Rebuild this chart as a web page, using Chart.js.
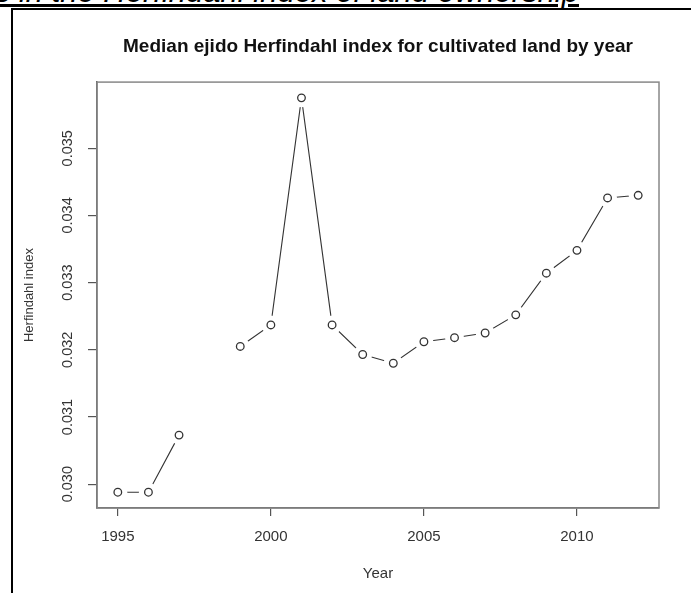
<!DOCTYPE html>
<html>
<head>
<meta charset="utf-8">
<script src="https://cdn.jsdelivr.net/npm/chart.js@4.4.1/dist/chart.umd.min.js"></script>
<style>
  html, body { margin: 0; padding: 0; background: #fff; }
  #wrap { position: relative; width: 691px; height: 593px; overflow: hidden; }
  #caption {
    position: absolute; right: 112px; top: -24px; white-space: nowrap;
    font: italic 31px "Liberation Sans", Arial, sans-serif; line-height: 31px;
    text-decoration: underline; color: #000;
  }
  #frame {
    position: absolute; left: 11px; top: 8px; width: 700px; height: 600px;
    border-left: 2px solid #000; border-top: 2px solid #000;
  }
  canvas { position: absolute; left: 0; top: 0; }
</style>
</head>
<body>
<div id="wrap">
  <div id="caption">Changes in the Herfindahl index of land ownership</div>
  <div id="frame"></div>
  <canvas id="herfChart" width="691" height="593"></canvas>
</div>
<script>
// datos
const years = [1995, 1996, 1997, 1998, 1999, 2000, 2001, 2002, 2003, 2004, 2005, 2006, 2007, 2008, 2009, 2010, 2011, 2012];
const herfindahl = [0.02988, 0.02988, 0.03073, null, 0.03205, 0.03237, 0.03575, 0.03237, 0.03193, 0.03180,
                    0.03212, 0.03218, 0.03225, 0.03252, 0.03314, 0.03348, 0.03426, 0.03430];
const xTicks = [1995, 2000, 2005, 2010];
const yTicks = [0.030, 0.031, 0.032, 0.033, 0.034, 0.035];
const yTickLabels = ['0.030', '0.031', '0.032', '0.033', '0.034', '0.035'];

const points = years.map((y, i) => ({ x: y, y: herfindahl[i] }));

// rango estilo R (4% extra a cada lado)
const vals = herfindahl.filter(v => v !== null);
const yMin = Math.min(...vals), yMax = Math.max(...vals);
const xMin = Math.min(...years), xMax = Math.max(...years);
const yPad = (yMax - yMin) * 0.04, xPad = (xMax - xMin) * 0.04;

const FONT = '"Liberation Sans", Arial, sans-serif';

// caja del grafico y etiquetas del eje y giradas
const boxPlugin = {
    id: 'boxPlugin',
    afterDraw(chart) {
        const { ctx, chartArea: a, scales } = chart;
        ctx.save();
        ctx.strokeStyle = '#888';
        ctx.lineWidth = 1.5;
        ctx.strokeRect(a.left, a.top, a.right - a.left, a.bottom - a.top);
        ctx.fillStyle = '#333';
        ctx.font = '14.5px ' + FONT;
        ctx.textAlign = 'center';
        ctx.textBaseline = 'middle';
        yTicks.forEach((v, i) => {
            const py = scales.y.getPixelForValue(v);
            ctx.save();
            ctx.translate(68, py);
            ctx.rotate(-Math.PI / 2);
            ctx.fillText(yTickLabels[i], 0, 0);
            ctx.restore();
        });
        ctx.restore();
    }
};

new Chart(document.getElementById('herfChart').getContext('2d'), {
    type: 'line',
    data: {
        datasets: [
            {
                // marcadores
                data: points,
                showLine: false,
                pointRadius: 3.8,
                pointBorderWidth: 1.3,
                pointBorderColor: '#333',
                pointBackgroundColor: '#fff',
                order: 0
            },
            {
                // linea con huecos alrededor de los puntos
                data: points,
                borderColor: '#333',
                borderWidth: 1.1,
                spanGaps: false,
                tension: 0,
                pointRadius: 9.5,
                pointBorderWidth: 0,
                pointBorderColor: '#fff',
                pointBackgroundColor: '#fff',
                order: 1
            }
        ]
    },
    options: {
        responsive: false,
        animation: false,
        events: [],
        layout: { padding: { left: 14, top: 35, right: 32, bottom: 0 } },
        scales: {
            x: {
                type: 'linear',
                min: xMin - xPad,
                max: xMax + xPad,
                afterBuildTicks: s => { s.ticks = xTicks.map(v => ({ value: v })); },
                afterFit: s => { s.height = 85; },
                grid: { display: true, drawOnChartArea: false, drawTicks: true, tickLength: 8, color: '#555', lineWidth: 1.2 },
                border: { display: true, color: '#555', width: 1.5 },
                ticks: {
                    color: '#333', padding: 12,
                    font: { family: FONT, size: 15 },
                    maxRotation: 0,
                    callback: v => String(v)
                },
                title: {
                    display: true, text: 'Year', color: '#333',
                    font: { family: FONT, size: 15 },
                    padding: { top: 0, bottom: 10 }
                }
            },
            y: {
                min: yMin - yPad,
                max: yMax + yPad,
                afterBuildTicks: s => { s.ticks = yTicks.map(v => ({ value: v })); },
                afterFit: s => { s.width = 83; },
                grid: { display: true, drawOnChartArea: false, drawTicks: true, tickLength: 9, color: '#555', lineWidth: 1.2 },
                border: { display: true, color: '#555', width: 1.5 },
                ticks: { display: false },
                title: {
                    display: true, text: 'Herfindahl index', color: '#333',
                    font: { family: FONT, size: 13 },
                    padding: { top: 8, bottom: 0 }
                }
            }
        },
        plugins: {
            legend: { display: false },
            tooltip: { enabled: false },
            title: {
                display: true,
                fullSize: false,
                text: 'Median ejido Herfindahl index for cultivated land by year',
                color: '#111',
                font: { family: FONT, size: 19, weight: 'bold' },
                padding: { top: 0, bottom: 24.3 }
            }
        }
    },
    plugins: [boxPlugin]
});
</script>
</body>
</html>
